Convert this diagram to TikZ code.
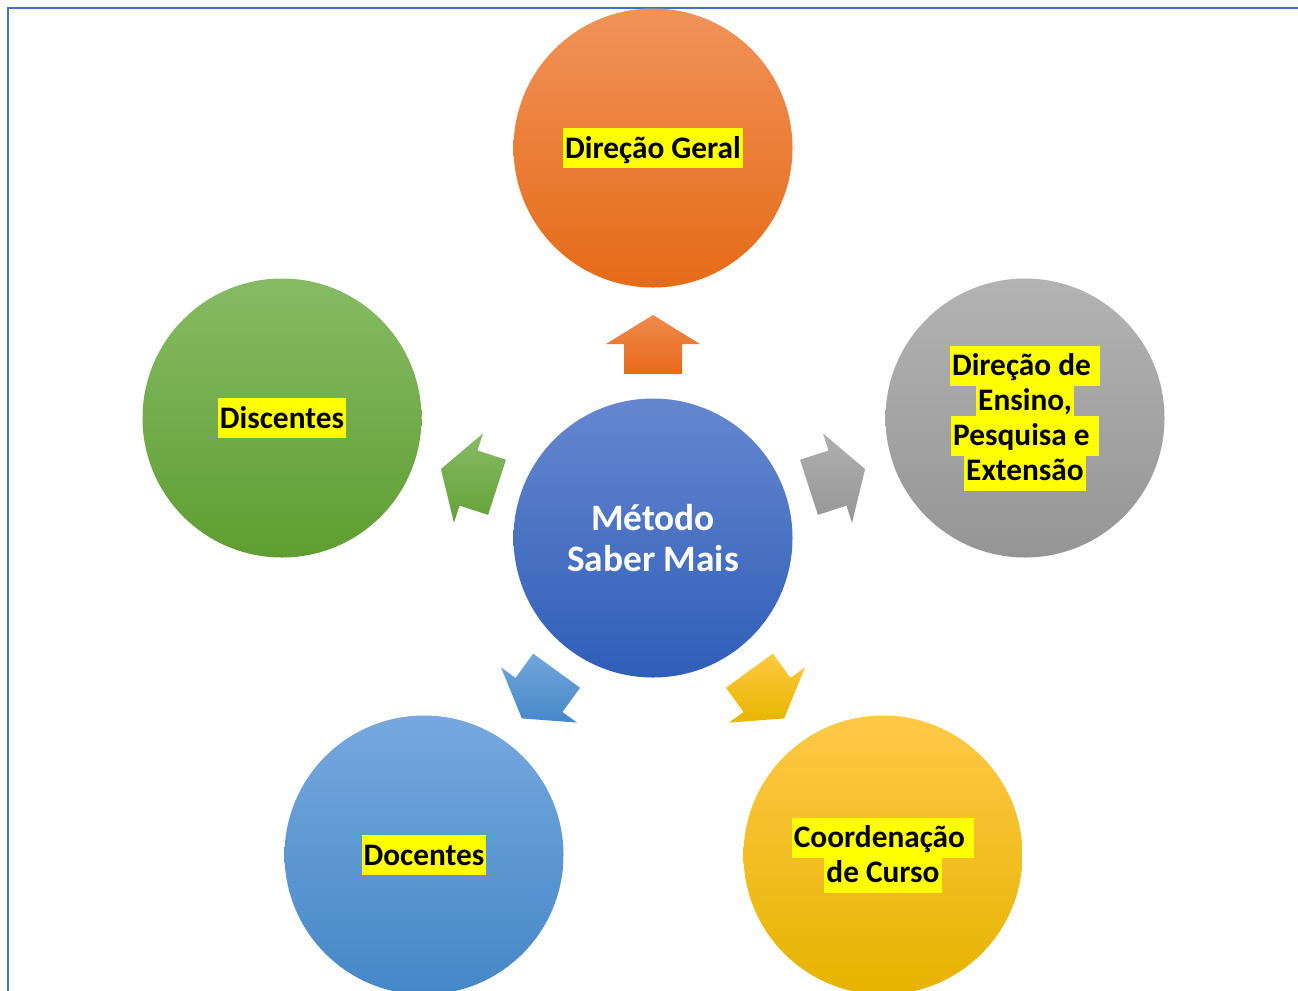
\documentclass[tikz,border=0pt]{standalone}
\usepackage{fontspec}
\setmainfont{Carlito}
\usetikzlibrary{calc}
\definecolor{hl}{HTML}{FFFF00}
\definecolor{frame}{HTML}{4472C4}
\definecolor{orT}{HTML}{F19259}\definecolor{orM}{HTML}{EE7B2D}\definecolor{orB}{HTML}{E56B17}
\definecolor{blT}{HTML}{6687CF}\definecolor{blM}{HTML}{4472C4}\definecolor{blB}{HTML}{2F5EB8}
\definecolor{grT}{HTML}{B3B3B3}\definecolor{grM}{HTML}{A5A5A5}\definecolor{grB}{HTML}{959595}
\definecolor{gnT}{HTML}{86BB64}\definecolor{gnM}{HTML}{70AD47}\definecolor{gnB}{HTML}{5F9E32}
\definecolor{lbT}{HTML}{76A8DE}\definecolor{lbM}{HTML}{5B9BD5}\definecolor{lbB}{HTML}{4587C7}
\definecolor{goT}{HTML}{FFC947}\definecolor{goM}{HTML}{FFC000}\definecolor{goB}{HTML}{E6B300}
\definecolor{aorT}{HTML}{F08A4B}\definecolor{aorB}{HTML}{E8691B}
\definecolor{agrT}{HTML}{B0B0B0}\definecolor{agrB}{HTML}{969696}
\definecolor{agnT}{HTML}{86BB64}\definecolor{agnB}{HTML}{64A237}
\definecolor{albT}{HTML}{72A6DC}\definecolor{albB}{HTML}{4688C8}
\definecolor{agoT}{HTML}{FFC940}\definecolor{agoB}{HTML}{E8B500}
\newcommand{\hlline}[1]{\colorbox{hl}{\hspace{1.5pt}\rule[-7.5pt]{0pt}{30pt}#1\hspace{1.5pt}}}
\newcommand{\pentarrow}[3]{%
  \shade[top color=#2, bottom color=#3]
    ($(c.center)+(#1:164)+(#1+90:29)$) --
    ($(c.center)+(#1:194)+(#1+90:29)$) --
    ($(c.center)+(#1:194)+(#1+90:47)$) --
    ($(c.center)+(#1:223)$) --
    ($(c.center)+(#1:194)+(#1-90:47)$) --
    ($(c.center)+(#1:194)+(#1-90:29)$) --
    ($(c.center)+(#1:164)+(#1-90:29)$) -- cycle;}
\tikzset{
  bub/.style={circle, inner sep=0pt, minimum size=209.25pt, draw=none},
  lbl/.style={font=\fontsize{23.5}{26.25}\selectfont\bfseries, align=center, text=black},
  mid/.style={font=\fontsize{28}{30.75}\selectfont\bfseries, align=center, text=white},
}
\begin{document}
\begin{tikzpicture}[x=0.75pt,y=-0.75pt]
\lineskiplimit=-100pt
\lineskip=0pt
\setlength{\fboxsep}{0pt}
\useasboundingbox (0,0) rectangle (1298,990);
\clip (0,0) rectangle (1298,990);
\fill[white] (0,0) rectangle (1298,990);
% frame
\draw[frame, line width=1.8pt] (8,995) -- (8,8) -- (1305,8);
% circles
\node[bub, top color=blT, middle color=blM, bottom color=blB, mid] (c) at (653,538) {Método\\Saber Mais};
\node[bub, top color=orT, middle color=orM, bottom color=orB, lbl] (top) at (653,148) {\hlline{Direção Geral}};
\node[bub, top color=grT, middle color=grM, bottom color=grB, lbl] (right) at (1025,418)
  {\hlline{Direção de\ }\\\hlline{Ensino,}\\\hlline{Pesquisa e\ }\\\hlline{Extensão}};
\node[bub, top color=gnT, middle color=gnM, bottom color=gnB, lbl] (left) at (282,418) {\hlline{Discentes}};
\node[bub, top color=lbT, middle color=lbM, bottom color=lbB, lbl] (bl) at (424,855) {\hlline{Docentes}};
\node[bub, top color=goT, middle color=goM, bottom color=goB, lbl] (br) at (883,855)
  {\hlline{Coordenação\ }\\\hlline{de Curso}};
% arrows
\pentarrow{270}{aorT}{aorB}
\pentarrow{342}{agrT}{agrB}
\pentarrow{198}{agnT}{agnB}
\pentarrow{126}{albT}{albB}
\pentarrow{54}{agoT}{agoB}
\end{tikzpicture}
\end{document}
